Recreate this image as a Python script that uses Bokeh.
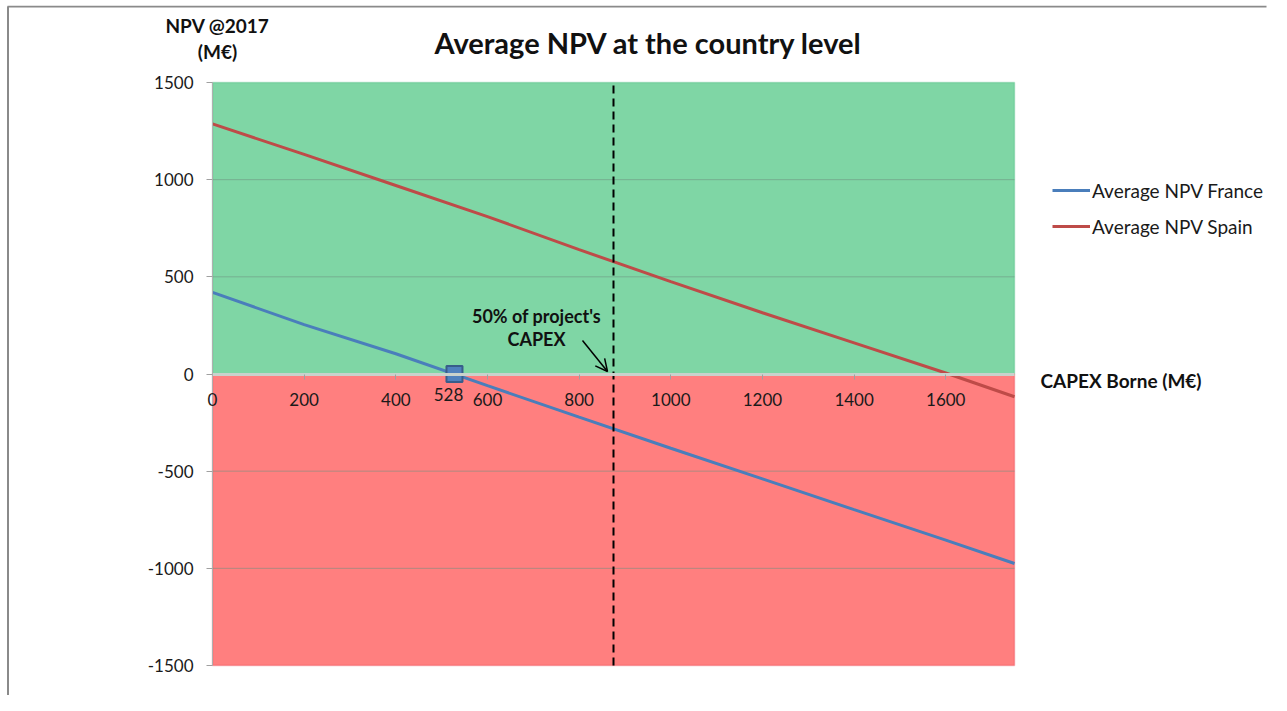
from bokeh.plotting import figure
from bokeh.models import (BoxAnnotation, Label, Legend, LegendItem, Arrow, LinearAxis,
                          OpenHead, FixedTicker, Range1d, ColumnDataSource)
from bokeh.core.properties import value
from bokeh.embed import file_html
from bokeh.resources import INLINE

# ---- data ----
capex = [0, 200, 400, 600, 800, 1000, 1200, 1400, 1600, 1750]
npv_france = [420, 254, 104, -60, -222, -382, -540, -698, -855, -975]
npv_spain = [1287, 1130, 970, 810, 640, 475, 315, 160, 5, -117]
breakeven_x = [528]
breakeven_y = [0]
breakeven_label = ["528"]
half_capex = 875
x_ticks = [0, 200, 400, 600, 800, 1000, 1200, 1400, 1600]
y_ticks = [-1500, -1000, -500, 0, 500, 1000, 1500]
grid_y = [-1000, -500, 500, 1000]
x_min, x_max = 0, 1750
y_min, y_max = -1500, 1500

FONT = "Lato"
W, H = 1271, 695
# layout (canvas pixels): plot area inside a frame that covers nearly the whole canvas
PLOT_L, PLOT_R, PLOT_T, PLOT_B = 212, 1014, 82, 665
FRAME_L, FRAME_R, FRAME_T, FRAME_B = 0, W - 5, 5, H
PX = (PLOT_R - PLOT_L) / (x_max - x_min)
PY = (PLOT_B - PLOT_T) / (y_max - y_min)


def dx(ix):
    return x_min + (ix - PLOT_L) / PX


def dy(iy):
    return y_min + (PLOT_B - iy) / PY


p = figure(width=W, height=H, output_backend="svg", toolbar_location=None,
           x_range=Range1d(dx(FRAME_L), dx(FRAME_R)),
           y_range=Range1d(dy(FRAME_B), dy(FRAME_T)),
           x_axis_location=None, y_axis_location=None,
           min_border_left=FRAME_L, min_border_right=W - FRAME_R,
           min_border_top=FRAME_T, min_border_bottom=H - FRAME_B)
p.outline_line_color = None
p.background_fill_color = "white"
p.border_fill_color = "white"
p.xgrid.visible = False
p.ygrid.visible = False

# chart-area border (top and left edges)
p.segment(x0=[dx(7)], x1=[dx(W)], y0=[dy(6)], y1=[dy(6)], line_color="#8a8a8a",
          line_width=2)
p.segment(x0=[dx(7.5)], x1=[dx(7.5)], y0=[dy(6)], y1=[dy(H)], line_color="#8a8a8a",
          line_width=2)

# coloured zones
p.add_layout(BoxAnnotation(left=x_min, right=x_max, bottom=0, top=y_max,
                           fill_color="#7fd6a5", fill_alpha=1,
                           line_color="#2fae6a", line_width=1.5, level="image"))
p.add_layout(BoxAnnotation(left=x_min, right=x_max, bottom=y_min, top=0,
                           fill_color="#ff7f7f", fill_alpha=1,
                           line_color="#e42a3a", line_width=1.5, level="image"))

# horizontal grid lines limited to the plot area
p.segment(x0=x_min, x1=x_max, y0=grid_y, y1=grid_y, line_color="#6f8f7f",
          line_alpha=0.55, line_width=1, level="underlay")

# y axis at x = 0 (kept in the thin right panel, ticks pointing left)
yax = LinearAxis(ticker=FixedTicker(ticks=y_ticks), fixed_location=x_min,
                 bounds=(y_min, y_max), axis_line_color="#b0b0b0",
                 major_tick_line_color="#a0a0a0", major_tick_in=6, major_tick_out=0,
                 minor_tick_line_color=None, major_label_standoff=0,
                 major_label_text_font_size="1px", major_label_text_alpha=0)
p.add_layout(yax, "right")
for t in y_ticks:
    p.add_layout(Label(x=x_min, y=t, x_offset=-19, text=str(t), text_font=FONT,
                       text_font_size="17px", text_align="right",
                       text_baseline="middle", text_color="#1a1a1a"))

# x axis crossing at y = 0 (kept in the thin top panel, ticks pointing down)
xax = LinearAxis(ticker=FixedTicker(ticks=x_ticks), fixed_location=0,
                 bounds=(x_min, x_max), axis_line_color="#c9d2cc", axis_line_width=3,
                 major_tick_line_color="#a0a0a0", major_tick_in=5, major_tick_out=0,
                 minor_tick_line_color=None, major_label_standoff=0,
                 major_label_text_font_size="1px", major_label_text_alpha=0)
p.add_layout(xax, "above")
for t in x_ticks:
    p.add_layout(Label(x=t, y=0, y_offset=-25, text=str(t), text_font=FONT,
                       text_font_size="17px", text_align="center",
                       text_baseline="middle", text_color="#1a1a1a"))

# lines
src = ColumnDataSource(dict(x=capex, fr=npv_france, es=npv_spain))
r_fr = p.line("x", "fr", source=src, line_color="#4a7ebb", line_width=3)
r_es = p.line("x", "es", source=src, line_color="#be4b48", line_width=3)

# 50% CAPEX vertical line (within the plot area)
p.segment(x0=[half_capex], x1=[half_capex], y0=y_min, y1=y_max, line_color="black",
          line_width=2, line_dash="8 5")

# break-even marker
bsrc = ColumnDataSource(dict(x=breakeven_x, y=breakeven_y, t=breakeven_label))
p.scatter("x", "y", source=bsrc, marker="square", size=16, fill_color="#4f81bd",
          line_color="#385d8a", line_width=2)
p.text("x", "y", text="t", source=bsrc, text_font=value(FONT),
       text_font_size="17px", text_align="center", text_baseline="middle",
       x_offset=-6, y_offset=20, text_color="#1a1a1a")

# annotation
p.add_layout(Label(x=dx(536), y=dy(315), text="50% of project's", text_font=FONT,
                   text_font_style="bold", text_font_size="18px", text_align="center",
                   text_baseline="middle", text_color="#111111"))
p.add_layout(Label(x=dx(536), y=dy(338), text="CAPEX", text_font=FONT,
                   text_font_style="bold", text_font_size="18px", text_align="center",
                   text_baseline="middle", text_color="#111111"))
p.add_layout(Arrow(x_start=dx(582), y_start=dy(340), x_end=dx(607), y_end=dy(371),
                   line_color="black", line_width=1.5,
                   end=OpenHead(size=12, line_color="black", line_width=1.5)))

# title and axis labels
p.add_layout(Label(x=dx(648), y=dy(42), text="Average NPV at the country level",
                   text_font=FONT, text_font_style="bold", text_font_size="29px",
                   text_align="center", text_baseline="middle", text_color="#111111"))
p.add_layout(Label(x=dx(217), y=dy(25), text="NPV @2017", text_font=FONT,
                   text_font_style="bold", text_font_size="19px", text_align="center",
                   text_baseline="middle", text_color="#111111"))
p.add_layout(Label(x=dx(217), y=dy(51), text="(M€)", text_font=FONT,
                   text_font_style="bold", text_font_size="19px", text_align="center",
                   text_baseline="middle", text_color="#111111"))
p.add_layout(Label(x=dx(1040), y=0, y_offset=-6, text="CAPEX Borne (M€)",
                   text_font=FONT, text_font_style="bold", text_font_size="19px",
                   text_align="left", text_baseline="middle", text_color="#111111"))

# legend
legend = Legend(items=[LegendItem(label="Average NPV France", renderers=[r_fr]),
                       LegendItem(label="Average NPV Spain", renderers=[r_es])],
                location=(1052 - FRAME_L, FRAME_B - 237.5), orientation="vertical",
                background_fill_alpha=0, border_line_color=None,
                label_text_font=FONT, label_text_font_size="19px",
                label_text_color="#1a1a1a", glyph_width=38, glyph_height=20,
                label_height=20, spacing=13, padding=0, margin=0, label_standoff=2)
p.add_layout(legend, "center")

open("out.html", "w").write(file_html(p, INLINE))
